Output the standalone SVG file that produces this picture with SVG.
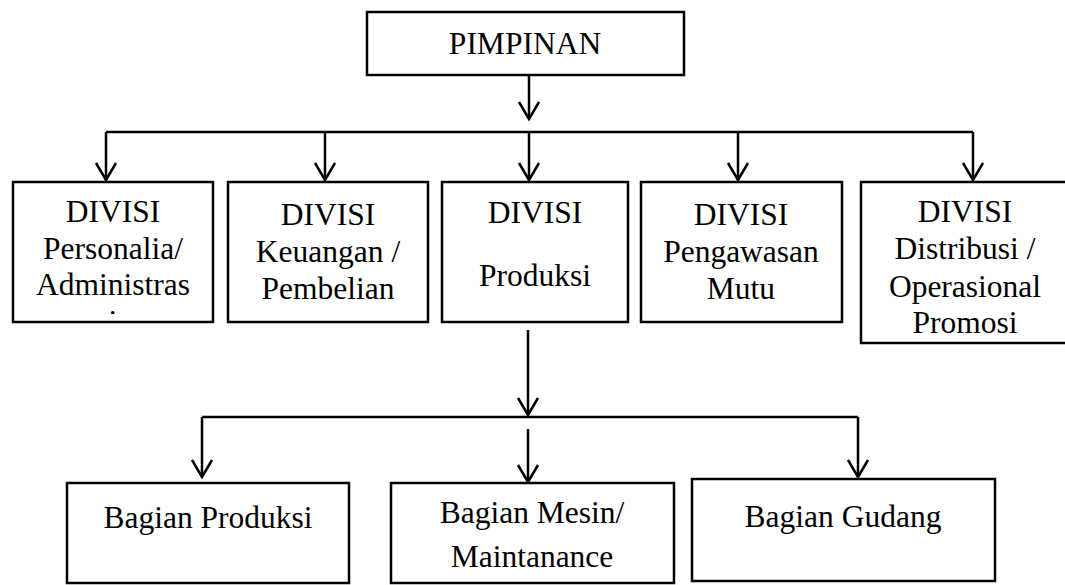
<svg xmlns="http://www.w3.org/2000/svg" width="1065" height="585" viewBox="0 0 1065 585">
<defs>
<style>
.box{fill:#fff;stroke:#000;stroke-width:2.5}
.t{font-family:"Liberation Serif","Times New Roman",serif;font-size:31.5px;fill:#000;text-anchor:middle}
.c{fill:none;stroke:#000;stroke-width:2.5}
</style>
<marker id="arr" markerWidth="24" markerHeight="24" viewBox="-20 -12 24 24" refX="0" refY="0" orient="auto" markerUnits="userSpaceOnUse">
<path d="M-17,-10 L0,0 L-17,10" fill="none" stroke="#000" stroke-width="2.5"/>
</marker>
<clipPath id="clip1"><rect x="14" y="183" width="198" height="131"/></clipPath>
</defs>
<rect width="1065" height="585" fill="#fff"/>
<g id="connectors">
<path class="c" d="M529,68 V119" marker-end="url(#arr)"/>
<path class="c" d="M106,132 H973"/>
<path class="c" d="M106,132 V180" marker-end="url(#arr)"/>
<path class="c" d="M325,132 V180" marker-end="url(#arr)"/>
<path class="c" d="M529,132 V180" marker-end="url(#arr)"/>
<path class="c" d="M738,132 V180" marker-end="url(#arr)"/>
<path class="c" d="M973,132 V180" marker-end="url(#arr)"/>
<path class="c" d="M528,330 V415" marker-end="url(#arr)"/>
<path class="c" d="M202,417 H858"/>
<path class="c" d="M202,417 V477" marker-end="url(#arr)"/>
<path class="c" d="M858,417 V477" marker-end="url(#arr)"/>
<path class="c" d="M528,429 V482" marker-end="url(#arr)"/>
</g>
<g id="pimpinan">
<rect class="box" x="367" y="12" width="317" height="63"/>
<text class="t" x="525" y="54">PIMPINAN</text>
</g>
<g id="personalia">
<rect class="box" x="13" y="182" width="200" height="140"/>
<text class="t" x="113" y="222">DIVISI</text>
<text class="t" x="113" y="259">Personalia/</text>
<text class="t" x="113" y="295">Administras</text>
<g clip-path="url(#clip1)"><text class="t" x="113" y="332">i</text></g>
</g>
<g id="keuangan">
<rect class="box" x="228" y="182" width="200" height="140"/>
<text class="t" x="328" y="225">DIVISI</text>
<text class="t" x="328" y="262">Keuangan /</text>
<text class="t" x="328" y="299">Pembelian</text>
</g>
<g id="produksi">
<rect class="box" x="442" y="182" width="186" height="140"/>
<text class="t" x="535" y="223">DIVISI</text>
<text class="t" x="535" y="286">Produksi</text>
</g>
<g id="mutu">
<rect class="box" x="641" y="182" width="201" height="140"/>
<text class="t" x="741" y="225">DIVISI</text>
<text class="t" x="741" y="262">Pengawasan</text>
<text class="t" x="741" y="299">Mutu</text>
</g>
<g id="distribusi">
<rect class="box" x="861" y="182" width="210" height="161"/>
<text class="t" x="965" y="222">DIVISI</text>
<text class="t" x="965" y="259">Distribusi /</text>
<text class="t" x="965" y="297">Operasional</text>
<text class="t" x="965" y="333">Promosi</text>
</g>
<g id="bagian-produksi">
<rect class="box" x="67" y="483" width="282" height="100"/>
<text class="t" x="208" y="528">Bagian Produksi</text>
</g>
<g id="bagian-mesin">
<rect class="box" x="391" y="483" width="283" height="100"/>
<text class="t" x="532" y="523">Bagian Mesin/</text>
<text class="t" x="532" y="567">Maintanance</text>
</g>
<g id="bagian-gudang">
<rect class="box" x="692" y="479" width="303" height="102"/>
<text class="t" x="843" y="527">Bagian Gudang</text>
</g>
</svg>
